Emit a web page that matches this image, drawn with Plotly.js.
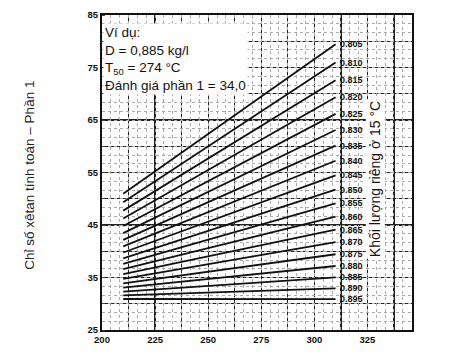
<!DOCTYPE html>
<html>
<head>
<meta charset="utf-8">
<script src="https://cdn.plot.ly/plotly-3.0.1.min.js"></script>
<style>html,body{margin:0;padding:0;background:#fff;}#chart{width:460px;height:359px;}</style>
</head>
<body>
<div id="chart"></div>
<script>
// T50 (°C) at start and end of each density line
const t50Range = [210, 310];
// density labels (kg/l at 15 °C)
const densities = ['0.805','0.810','0.815','0.820','0.825','0.830','0.835','0.840','0.845','0.850',
                   '0.855','0.860','0.865','0.870','0.875','0.880','0.885','0.890','0.895'];
// calculated cetane index (Part 1) read at T50 = 210
const cciStart = [50.96, 49.31, 47.74, 46.24, 44.82, 43.46, 42.16, 40.93, 39.76, 38.65,
                  37.59, 36.59, 35.64, 34.74, 33.88, 33.07, 32.30, 31.58, 30.90];
// calculated cetane index (Part 1) read at T50 = 310
const cciEnd = [79.43, 75.95, 72.58, 69.32, 66.16, 63.09, 60.12, 57.24, 54.45, 51.75,
                49.13, 46.59, 44.13, 41.74, 39.43, 37.19, 35.02, 32.91, 30.87];
const xTicks = [200, 225, 250, 275, 300, 325];
const yTicks = [25, 35, 45, 55, 65, 75, 85];

const traces = densities.map((d, i) => ({
  type: 'scatter', mode: 'lines',
  x: t50Range, y: [cciStart[i], cciEnd[i]],
  line: {color: '#111', width: 1.8},
  hoverinfo: 'skip', showlegend: false
}));
// invisible trace to activate overlay axes for dotted grid
traces.push({type:'scatter', mode:'markers', x:[200], y:[25], xaxis:'x2', yaxis:'y2',
  marker:{opacity:0}, showlegend:false, hoverinfo:'skip'});

const annotations = densities.map((d, i) => ({
  x: t50Range[1], y: cciEnd[i], xref: 'x', yref: 'y',
  text: '<b>' + d + '</b>', showarrow: false, xanchor: 'left', yanchor: 'middle', xshift: 2,
  font: {family: 'Liberation Sans, Arial', size: 9, color: '#111'}
}));
annotations.push({
  xref: 'paper', yref: 'paper', x: 0.004, y: 0.975, xanchor: 'left', yanchor: 'top', align: 'left',
  showarrow: false, bgcolor: '#fff',
  text: 'Ví dụ:<br>D = 0,885 kg/l<br>T<sub>50</sub> = 274 °C<br>Đánh giá phần 1 = 34,0',
  font: {family: 'Liberation Sans, Arial', size: 13.5, color: '#111'}
});
annotations.push({
  xref: 'paper', yref: 'paper', x: 0.883, y: 0.478, xanchor: 'center', yanchor: 'middle',
  showarrow: false, textangle: -90, bgcolor: '#fff',
  text: 'Khối lượng riêng ở 15 °C',
  font: {family: 'Liberation Sans, Arial', size: 14, color: '#111'}
});
annotations.push({
  xref: 'paper', yref: 'paper', x: -0.232, y: 0.49, xanchor: 'center', yanchor: 'middle',
  showarrow: false, textangle: -90,
  text: 'Chỉ số xêtan tính toán – Phần 1',
  font: {family: 'Liberation Sans, Arial', size: 13.5, color: '#222'}
});

const layout = {
  width: 460, height: 359,
  margin: {l: 102, r: 48, t: 15, b: 29},
  paper_bgcolor: '#fff', plot_bgcolor: '#fff',
  showlegend: false,
  xaxis: {
    range: [200, 346], tickvals: xTicks, ticktext: xTicks.map(String),
    showgrid: true, gridcolor: '#222', gridwidth: 1.3,
    minor: {dtick: 12.5, tick0: 200, showgrid: true, gridcolor: '#222', gridwidth: 1.3},
    showline: true, linecolor: '#111', linewidth: 2, mirror: true,
    ticks: '', zeroline: false,
    tickfont: {family: 'Liberation Sans, Arial', size: 9.5, color: '#111', weight: 'bold'}
  },
  yaxis: {
    range: [25, 85], tickvals: yTicks, ticktext: yTicks.map(String),
    showgrid: true, gridcolor: '#222', gridwidth: 1.3,
    minor: {dtick: 5, tick0: 25, showgrid: true, gridcolor: '#222', gridwidth: 1.3, ticks: 'inside', ticklen: 3},
    showline: true, linecolor: '#111', linewidth: 2, mirror: true,
    ticks: '', zeroline: false,
    tickfont: {family: 'Liberation Sans, Arial', size: 9.5, color: '#111', weight: 'bold'}
  },
  xaxis2: {overlaying: 'x', range: [200, 346], dtick: 4.1667, tick0: 200, showgrid: true,
    gridcolor: '#aaa', griddash: 'dot', gridwidth: 1, showticklabels: false, zeroline: false, layer: 'below traces'},
  yaxis2: {overlaying: 'y', range: [25, 85], dtick: 1.6667, tick0: 25, showgrid: true,
    gridcolor: '#aaa', griddash: 'dot', gridwidth: 1, showticklabels: false, zeroline: false, layer: 'below traces'},
  annotations: annotations
};

Plotly.newPlot('chart', traces, layout, {displayModeBar: false, staticPlot: true});
</script>
</body>
</html>
